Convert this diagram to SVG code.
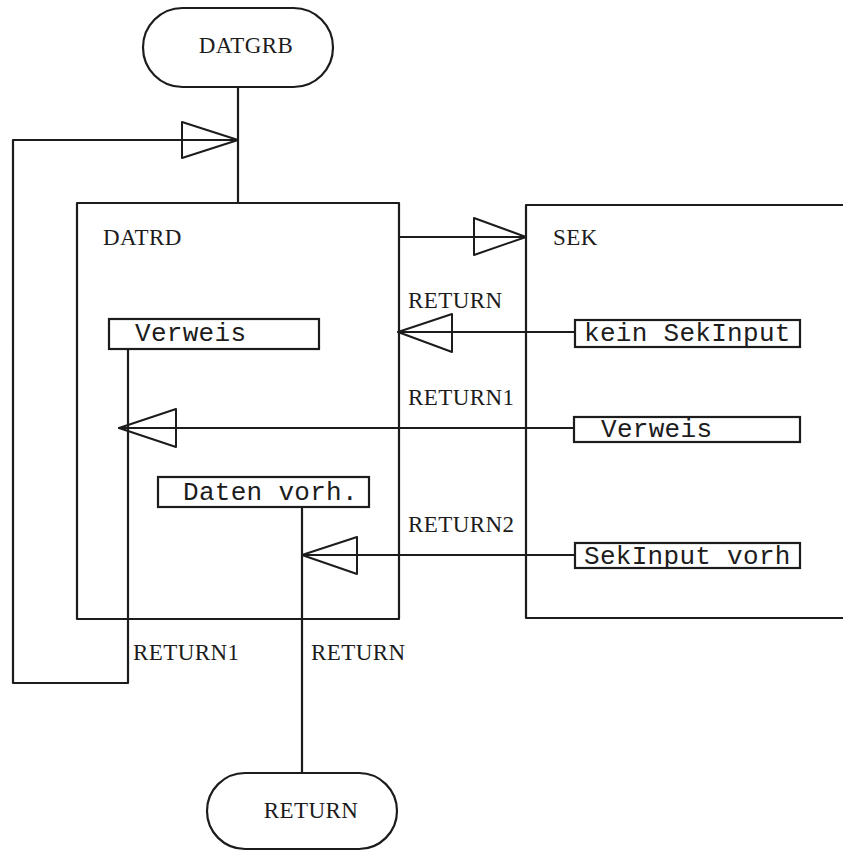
<svg xmlns="http://www.w3.org/2000/svg" width="843" height="851" viewBox="0 0 843 851">
<style>
.ln{fill:none;stroke:#1c1c1c;stroke-width:2.2;stroke-linejoin:round;stroke-linecap:round}
.bx{fill:#fff;stroke:#1c1c1c;stroke-width:2.2}
.ah{fill:none;stroke:#1c1c1c;stroke-width:2;stroke-linejoin:round}
.sf{font-family:"Liberation Serif","Times New Roman",serif;font-size:23px;fill:#1c1c1c;letter-spacing:0.4px}
.mn{font-family:"Liberation Mono","Courier New",monospace;font-size:26px;fill:#1c1c1c;letter-spacing:0.3px}
</style>
<rect width="843" height="851" fill="#fff"/>
<g id="connectors">
<path class="ln" d="M238,87 V203"/>
<path class="ln" d="M128,349 V683 H13 V140 H238"/>
<polygon class="ah" points="182,122 238,140 182,158"/>
<path class="ln" d="M400,237 H526"/>
<polygon class="ah" points="474,218 526,237 474,255"/>
<path class="ln" d="M575,332 H398"/>
<polygon class="ah" points="452,314 398,332 452,352"/>
<path class="ln" d="M573,428 H119"/>
<polygon class="ah" points="176,409 119,428 176,447"/>
<path class="ln" d="M575,555 H302"/>
<polygon class="ah" points="357,537 302,555 357,574"/>
<path class="ln" d="M302,507 V773"/>
<text class="sf" x="408" y="308">RETURN</text>
<text class="sf" x="408" y="405">RETURN1</text>
<text class="sf" x="408" y="532">RETURN2</text>
<text class="sf" x="133" y="660">RETURN1</text>
<text class="sf" x="311" y="660">RETURN</text>
</g>
<g id="DATGRB">
<rect class="bx" x="143" y="8" width="190" height="79" rx="39.5"/>
<text class="sf" x="246" y="53" text-anchor="middle">DATGRB</text>
</g>
<g id="DATRD">
<rect class="ln" x="77" y="203" width="322" height="416"/>
<text class="sf" x="103" y="245">DATRD</text>
</g>
<g id="SEK">
<path class="ln" d="M843,205 H526 V618 H843"/>
<text class="sf" x="553" y="245">SEK</text>
</g>
<g id="verweis1">
<rect class="bx" x="109" y="319" width="210" height="30"/>
<text class="mn" x="135" y="341">Verweis</text>
</g>
<g id="datenvorh">
<rect class="bx" x="158" y="477" width="211" height="30"/>
<text class="mn" x="183" y="500">Daten vorh.</text>
</g>
<g id="keinSekInput">
<rect class="bx" x="575" y="320" width="225" height="27"/>
<text class="mn" x="584" y="341">kein SekInput</text>
</g>
<g id="verweis2">
<rect class="bx" x="574" y="417" width="226" height="25"/>
<text class="mn" x="601" y="437">Verweis</text>
</g>
<g id="sekInputVorh">
<rect class="bx" x="575" y="543" width="225" height="25"/>
<text class="mn" x="584" y="564">SekInput vorh</text>
</g>
<g id="RETURN">
<rect class="bx" x="207" y="773" width="190" height="76" rx="38"/>
<text class="sf" x="311" y="818" text-anchor="middle">RETURN</text>
</g>
</svg>
